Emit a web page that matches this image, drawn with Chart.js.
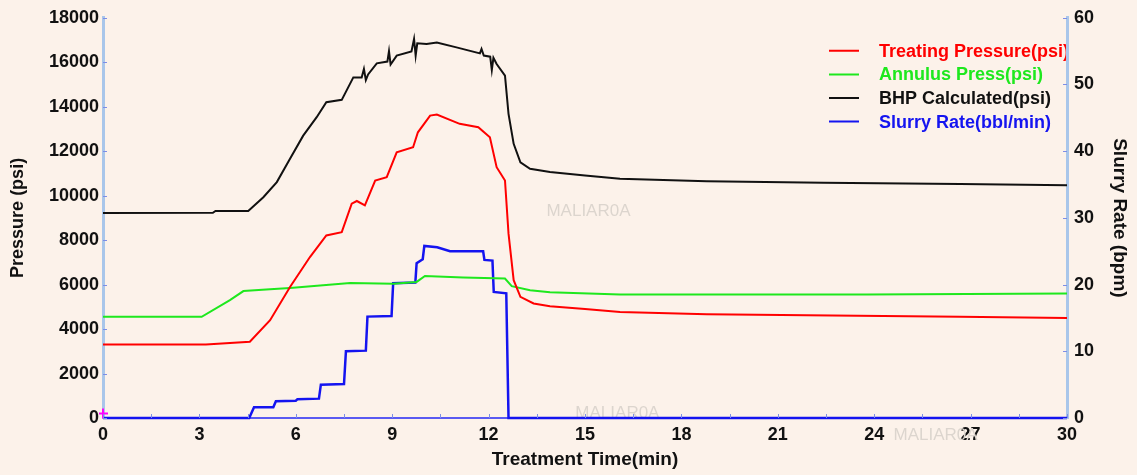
<!DOCTYPE html>
<html>
<head>
<meta charset="utf-8">
<script src="https://cdn.jsdelivr.net/npm/chart.js@4.4.1/dist/chart.umd.min.js"></script>
<style>
    body { margin: 0; background: #fcf2ea; }
    #wrap { width: 1137px; height: 475px; }
</style>
</head>
<body>
<div id="wrap"><canvas id="treatChart"></canvas></div>
<script>
// treating pressure, psi
const treatTime = [0, 3.2, 4.57, 5.2, 5.82, 6.44, 6.95, 7.43, 7.74, 7.9, 8.15, 8.47, 8.83, 9.14, 9.65, 9.8, 10.18, 10.39, 11.1, 11.68, 12.04, 12.25, 12.51, 12.62, 12.78, 12.99, 13.4, 13.91, 15, 16.09, 18.79, 21.9, 26.67, 30];
const treatPsi = [3310, 3310, 3430, 4400, 5890, 7240, 8210, 8360, 9640, 9760, 9560, 10680, 10830, 11950, 12180, 12850, 13600, 13650, 13230, 13080, 12630, 11280, 10680, 8290, 6200, 5450, 5150, 5030, 4900, 4770, 4670, 4620, 4550, 4500];

// annulus pressure, psi
const annTime = [0, 3.07, 3.95, 4.37, 5.2, 5.82, 7.69, 9.04, 9.76, 10.02, 11.21, 12.51, 12.72, 13.29, 13.91, 16.09, 23.77, 30];
const annPsi = [4550, 4550, 5300, 5710, 5790, 5850, 6070, 6040, 6120, 6390, 6320, 6270, 5930, 5750, 5660, 5550, 5550, 5600];

// calculated bottom hole pressure, psi
const bhpTime = [0, 3.42, 3.5, 4.52, 4.99, 5.41, 5.82, 6.23, 6.65, 6.95, 7.43, 7.79, 8.05, 8.12, 8.18, 8.25, 8.52, 8.85, 8.9, 8.95, 9.14, 9.6, 9.68, 9.73, 9.78, 10.07, 10.39, 11.0, 11.73, 11.78, 11.85, 12.05, 12.1, 12.15, 12.25, 12.51, 12.62, 12.78, 12.99, 13.29, 13.91, 15, 16.09, 18.79, 22.42, 26.67, 30];
const bhpPsi = [9220, 9230, 9310, 9310, 9930, 10610, 11660, 12700, 13530, 14200, 14310, 15320, 15320, 15700, 15200, 15450, 15950, 16030, 16500, 15900, 16300, 16490, 17050, 16300, 16850, 16820, 16890, 16670, 16400, 16600, 16300, 16250, 15650, 16200, 15920, 15400, 13680, 12330, 11500, 11210, 11060, 10910, 10760, 10650, 10580, 10520, 10470];

// slurry rate, bbl/min
const rateTime = [0, 4.55, 4.7, 5.3, 5.38, 6.0, 6.05, 6.72, 6.78, 7.5, 7.56, 8.18, 8.23, 8.98, 9.03, 9.72, 9.76, 9.95, 10.0, 10.4, 10.8, 11.83, 11.87, 12.12, 12.16, 12.55, 12.62, 30];
const rateBpm = [0, 0, 1.6, 1.6, 2.5, 2.6, 2.8, 2.9, 5.0, 5.1, 10.0, 10.1, 15.2, 15.3, 20.2, 20.3, 23.2, 23.8, 25.8, 25.6, 25.0, 25.0, 23.7, 23.6, 18.9, 18.7, 0, 0];

// start marker on the pressure axis
const markTime = [0];
const markPsi = [200];

const timeMax = 30, timeStep = 3;
const psiMax = 18000, psiStep = 2000;
const rateMax = 60, rateStep = 10;

const FONT = '"Liberation Sans", Arial, sans-serif';
const axisBlue = '#a9c6ea';
const tickBlue = '#7d8ee6';

function xy(ts, vs) {
    return ts.map((t, i) => ({x: t, y: vs[i]}));
}

// tiny inward tick marks on all three axes
const innerTicks = {
    id: 'innerTicks',
    afterDatasetsDraw(chart) {
        const {ctx, chartArea: a, scales} = chart;
        ctx.save();
        ctx.strokeStyle = tickBlue;
        ctx.lineWidth = 1;
        ctx.beginPath();
        for (let v = 0; v <= psiMax; v += psiStep) {
            const y = Math.round(scales.y.getPixelForValue(v)) + 0.5;
            ctx.moveTo(a.left, y); ctx.lineTo(a.left + 4, y);
        }
        for (let v = 0; v <= rateMax; v += rateStep) {
            const y = Math.round(scales.y1.getPixelForValue(v)) + 0.5;
            ctx.moveTo(a.right - 4, y); ctx.lineTo(a.right, y);
        }
        for (let v = 0; v <= timeMax; v += timeStep / 2) {
            const x = Math.round(scales.x.getPixelForValue(v)) + 0.5;
            ctx.moveTo(x, a.bottom); ctx.lineTo(x, a.bottom - 4);
        }
        ctx.stroke();
        ctx.restore();
    }
};

// faint MALIAR0A stamps behind the traces
const stamps = {
    id: 'stamps',
    beforeDatasetsDraw(chart) {
        const {ctx, scales: {x, y}} = chart;
        ctx.save();
        ctx.font = '17px ' + FONT;
        ctx.fillStyle = '#dcd5ce';
        ctx.textBaseline = 'middle';
        [[13.8, 9300], [14.7, 200], [24.6, -800]].forEach(([t, p]) => {
            ctx.fillText('MALIAR0A', x.getPixelForValue(t), y.getPixelForValue(p));
        });
        ctx.restore();
    }
};

// legend in the upper right of the plot
const plotLegend = {
    id: 'plotLegend',
    afterDatasetsDraw(chart) {
        const {ctx, chartArea: a} = chart;
        ctx.save();
        ctx.beginPath();
        ctx.rect(a.left, a.top, a.right - a.left - 1, a.bottom - a.top);
        ctx.clip();
        ctx.font = 'bold 18px ' + FONT;
        ctx.textBaseline = 'middle';
        chart.data.datasets.filter(d => d.label).forEach((d, i) => {
            const y = a.top + 33 + i * 23.6;
            ctx.strokeStyle = d.borderColor;
            ctx.lineWidth = 2;
            ctx.beginPath();
            ctx.moveTo(a.right - 238, y);
            ctx.lineTo(a.right - 208, y);
            ctx.stroke();
            ctx.fillStyle = d.borderColor;
            ctx.fillText(d.label, a.right - 188, y + 1);
        });
        ctx.restore();
    }
};

const plainNumber = v => String(v);

const ctx = document.getElementById('treatChart');
const treatChart = new Chart(ctx, {
    type: 'line',
    data: {
        datasets: [{
            label: 'Treating Pressure(psi)',
            data: xy(treatTime, treatPsi),
            borderColor: '#ff0000',
            yAxisID: 'y'
        }, {
            label: 'Annulus Press(psi)',
            data: xy(annTime, annPsi),
            borderColor: '#1ee81e',
            yAxisID: 'y'
        }, {
            label: 'BHP Calculated(psi)',
            data: xy(bhpTime, bhpPsi),
            borderColor: '#111111',
            yAxisID: 'y'
        }, {
            label: 'Slurry Rate(bbl/min)',
            data: xy(rateTime, rateBpm),
            borderColor: '#1414f0',
            borderWidth: 2.5,
            yAxisID: 'y1'
        }, {
            data: xy(markTime, markPsi),
            showLine: false,
            pointStyle: 'cross',
            pointRadius: 5,
            pointBorderWidth: 2,
            borderColor: '#ff00ff',
            yAxisID: 'y'
        }]
    },
    options: {
        animation: false,
        responsive: true,
        maintainAspectRatio: false,
        clip: 4,
        elements: {
            point: { radius: 0 },
            line: { borderWidth: 2, tension: 0 }
        },
        layout: { padding: { top: 17 } },
        plugins: {
            legend: { display: false },
            tooltip: { enabled: false }
        },
        scales: {
            x: {
                type: 'linear',
                min: 0,
                max: timeMax,
                grid: { display: false, drawTicks: false },
                border: { color: '#5a5af2', width: 2 },
                ticks: {
                    stepSize: timeStep,
                    autoSkip: false,
                    maxRotation: 0,
                    padding: 6,
                    color: '#111',
                    callback: plainNumber,
                    font: { family: FONT, size: 18, weight: 'bold' }
                },
                title: {
                    display: true,
                    text: 'Treatment Time(min)',
                    color: '#111',
                    padding: { top: 0, bottom: 4 },
                    font: { family: FONT, size: 19, weight: 'bold' }
                },
                afterFit: s => { s.height = 57; }
            },
            y: {
                position: 'left',
                min: 0,
                max: psiMax,
                grid: { display: false, drawTicks: false },
                border: { color: axisBlue, width: 3 },
                ticks: {
                    stepSize: psiStep,
                    padding: 4,
                    color: '#111',
                    callback: plainNumber,
                    font: { family: FONT, size: 18, weight: 'bold' }
                },
                title: {
                    display: true,
                    text: 'Pressure (psi)',
                    color: '#111',
                    padding: { top: 7, bottom: 0 },
                    font: { family: FONT, size: 18, weight: 'bold' }
                },
                afterFit: s => { s.width = 103; }
            },
            y1: {
                position: 'right',
                min: 0,
                max: rateMax,
                grid: { display: false, drawTicks: false },
                border: { color: axisBlue, width: 3 },
                ticks: {
                    stepSize: rateStep,
                    padding: 7,
                    color: '#111',
                    callback: plainNumber,
                    font: { family: FONT, size: 18, weight: 'bold' }
                },
                title: {
                    display: true,
                    text: 'Slurry Rate (bpm)',
                    color: '#111',
                    padding: { top: 6, bottom: 0 },
                    font: { family: FONT, size: 19, weight: 'bold' }
                },
                afterFit: s => { s.width = 70; }
            }
        }
    },
    plugins: [stamps, innerTicks, plotLegend]
});
</script>
</body>
</html>
